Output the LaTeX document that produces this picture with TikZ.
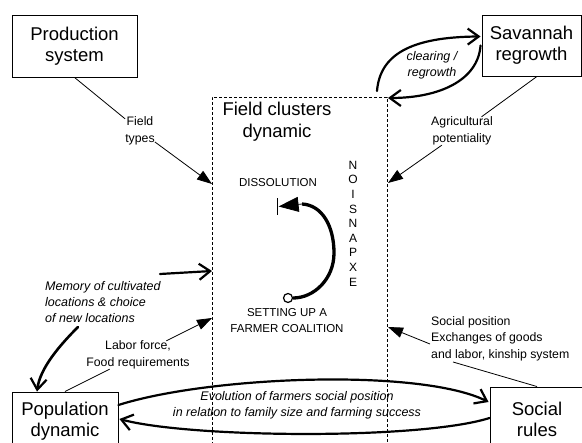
\documentclass[tikz,border=0pt]{standalone}
\usepackage{fontspec}
\setmainfont{Liberation Sans}
\usetikzlibrary{arrows.meta,calc}
\begin{document}
\begin{tikzpicture}[x=1pt,y=-1pt,
  box/.style={draw,line width=0.9pt,inner sep=0pt,align=center,
    font=\fontsize{18.5}{21}\selectfont},
  lbl/.style={inner sep=0pt,align=center,font=\fontsize{12.3}{16.5}\selectfont},
  ilbl/.style={inner sep=0pt,font=\fontsize{12.5}{16}\selectfont\itshape},
  caps/.style={inner sep=0pt,align=center,font=\fontsize{11.5}{16}\selectfont},
  thinline/.style={line width=0.8pt},
  fillarrow/.style={line width=0.8pt,-{Triangle[length=15pt,width=10.5pt]}},
  bigarrow/.style={line width=2.2pt,line cap=round,
    -{Straight Barb[length=11pt,width=16pt,line width=2.2pt]}},
  cluster/.style={draw,line width=0.8pt,dash pattern=on 3pt off 2pt,
    minimum width=175pt,minimum height=400pt,inner sep=0pt},
]
\useasboundingbox (0,0) rectangle (582,443);
\clip (0,0) rectangle (582,443);

% dashed frame of the field cluster model
\node[cluster] (fc) at (299.5,297) {};
\node[inner sep=0pt,align=center,font=\fontsize{18.5}{22.5}\selectfont]
  (title) at (277,121.5) {Field clusters\\dynamic};

% surrounding sub-models
\node[box,minimum width=125pt,minimum height=62pt] (prod) at (74.5,46) {Production\\system};
\node[box,minimum width=99pt,minimum height=61pt] (sav) at (531.5,45.5) {Savannah\\regrowth};
\node[box,minimum width=106pt,minimum height=58pt] (pop) at (65,421) {Population\\dynamic};
\node[box,minimum width=94pt,minimum height=64pt] (soc) at (537,419) {Social\\rules};

% connector labels
\node[lbl] (ft) at (140,131) {Field\\types};
\node[lbl] (ag) at (462,131) {Agricultural\\potentiality};
\node[ilbl,align=center,font=\fontsize{12.5}{16}\selectfont\itshape] (clr) at (432,65) {clearing /\\regrowth};
\node[ilbl,align=left,anchor=west] (mem) at (45,302)
  {Memory of cultivated\\locations \& choice\\of new locations};
\node[lbl] (lab) at (138,355) {Labor force,\\Food requirements};
\node[lbl,align=left,anchor=west] (socl) at (431,338.5)
  {Social position\\Exchanges of goods\\and labor, kinship system};
\node[ilbl,align=center,font=\fontsize{12.5}{15.5}\selectfont\itshape] (evo) at (297,405.5)
  {Evolution of farmers social position\\in relation to family size and farming success};

% inner cycle of a cluster: coalition set up, then dissolved
\node[caps] (dis) at (278,183) {DISSOLUTION};
\node[caps] (set) at (287,321) {SETTING UP A\\FARMER COALITION};
\node[inner sep=0pt,align=center,font=\fontsize{12}{14.6}\selectfont] (exp) at (353,223.5)
  {N\\O\\I\\S\\N\\A\\P\\X\\E};
\node[fill=black,minimum width=1.8pt,minimum height=17pt,inner sep=0pt] (bar) at (277.5,206.5) {};
\node[circle,draw,fill=white,line width=1.2pt,minimum size=9pt,inner sep=0pt] (circ) at (288,298) {};
\coordinate (cycHead) at (302,204);
\draw[line width=3.3pt]
  (circ.east) .. controls (314,298) and (334,279) .. (334,253)
  .. controls (334,226) and (322,205) .. (cycHead);
\draw[line width=0.8pt,-{Triangle[length=20pt,width=15pt]}] (cycHead) -- (bar.east);

% entry points on the frame
\coordinate (inFT) at (212,184);
\coordinate (inAG) at (388,183);
\coordinate (inMem) at (212,271);
\coordinate (inLab) at (212,318);
\coordinate (inSoc) at (388,327);
\coordinate (fcTop) at (377,91);
\coordinate (fcCorner) at (388,98);
\coordinate (savIn) at ($(sav.west)+(-1,-9)$);
\coordinate (savOut) at ($(sav.west)+(-1,0)$);
\coordinate (memA) at (160,274);
\coordinate (memB) at (78,327);
\coordinate (popIn) at ($(pop.north)+(-28,0)$);
\coordinate (socA) at (453,362);
\coordinate (socB) at (430,344);
\coordinate (popTop) at ($(pop.east)+(0,-16)$);
\coordinate (popBot) at ($(pop.east)+(1,-2)$);
\coordinate (socTop) at ($(soc.west)+(-1,-17)$);
\coordinate (socBot) at ($(soc.west)+(0,-1)$);

% connectors
\draw[thinline] (prod.south) -- (ft);
\draw[fillarrow] (ft) -- (inFT);
\draw[thinline] ($(sav.south)+(5.5,0)$) -- (ag);
\draw[fillarrow] (ag) -- (inAG);

\draw[bigarrow] (fcTop) .. controls (380,55) and (410,37) .. (savIn);
\draw[bigarrow] (savOut) .. controls (478,80) and (440,98) .. (fcCorner);

\draw[bigarrow] (memA) -- (inMem);
\draw[bigarrow,line width=2.6pt] (memB) .. controls (60,345) and (40,368) .. (popIn);

\draw[thinline] (pop.north) -- (lab);
\draw[fillarrow] (lab) -- (inLab);

\draw[thinline] (soc.north) -- (socA);
\draw[fillarrow] (socB) -- (inSoc);

\draw[bigarrow] (popTop) .. controls (210,376) and (420,368) .. (socTop);
\draw[bigarrow] (socBot) .. controls (420,440) and (190,438) .. (popBot);
\end{tikzpicture}
\end{document}
